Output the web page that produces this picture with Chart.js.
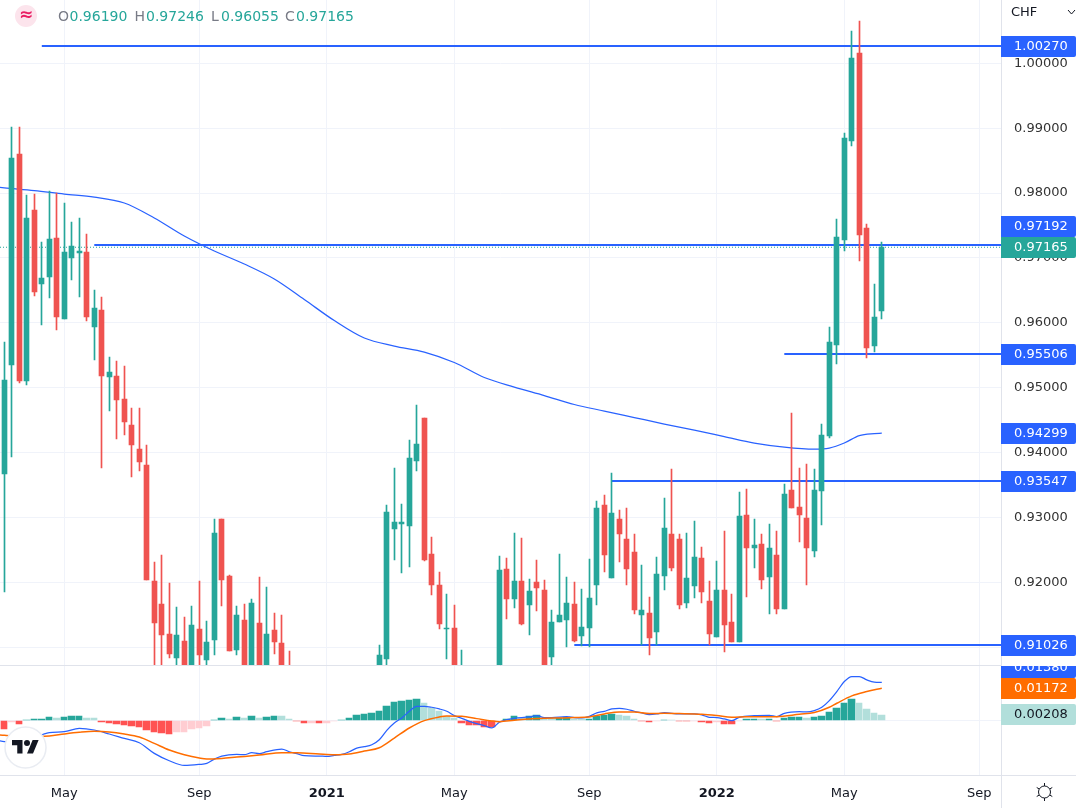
<!DOCTYPE html>
<html>
<head>
<meta charset="utf-8">
<style>html,body{margin:0;padding:0;background:#fff}canvas{display:block}</style>
<script src="https://cdn.jsdelivr.net/npm/chart.js@4/dist/chart.umd.js"></script>
</head>
<body>
<canvas id="c" width="1076" height="808"></canvas>
<script>
const _ = null;
const opens = [.93670,.95350,.98601,.95104,.97739,.96598,.96706,.97307,.96059,.96999,.97076,.97091,.95935,.96198,.95165,.95181,.94826,.94425,.94055,.93809,.92021,.91666,.91204,.90835,.91097,.904,.91281,.90804,.91112,.92976,.92099,.90958,.91420,.904,.91374,.904,.91266,.91066,.905,_,_,_,_,_,_,_,_,_,_,_,.904,.90820,.92822,.92899,.92868,.93870,.94533,.92437,.91960,.91281,.91297,.903,_,_,_,_,.904,.92206,.91744,.92021,.91651,.92006,.91883,.90850,.91389,.91420,.91666,.91173,.91297,.91960,.93193,.92068,.92976,.92668,.92468,.91497,.91528,.91235,.92099,.92745,.92668,.91682,.91945,.92376,.91713,.91158,.91883,.91389,.91081,.93038,.92530,.92591,.92083,.92422,.91590,.93424,.93162,.92992,.92484,.93408,.94256,.95658,.97276,.98802,1.00158,.97461,.95642,.96190];
const closes = [.95119,.98540,.95104,.97616,.96475,.96691,.97291,.96090,.97091,.97184,.97107,.96090,.96229,.95181,.95242,.94811,.94471,.94117,.93855,.92037,.91374,.91189,.90896,.91189,.904,.91343,.90881,.91081,.92761,.92037,.90943,.91497,.904,.91682,.904,.91204,.91081,.904,.903,_,_,_,_,_,_,_,_,_,_,_,.90881,.93085,.92930,.92930,.93917,.94132,.92345,.91960,.91358,.91297,.904,.906,_,_,_,_,.92191,.91744,.92021,.91358,.91868,.91913,.904,.91389,.91497,.91682,.91097,.91312,.91759,.93146,.92422,.93069,.92745,.92206,.91574,.91574,.91143,.92129,.92838,.92222,.91651,.92068,.92391,.91852,.91204,.91883,.91343,.91081,.93023,.92530,.92576,.92037,.92530,.91590,.93362,.93146,.93038,.92530,.93424,.94271,.95704,.97323,.98848,1.00081,.97353,.95612,.96090,.97165];
const highs = [.95704,.99018,.99018,.97970,.97985,.97245,.98032,.98001,.97847,.97554,.97616,.97369,.96506,.96398,.95473,.95412,.95335,.94687,.94687,.94117,.92314,.92422,.91991,.91620,.91466,.91636,.92021,.91405,.92976,.92976,.92114,.91636,.91666,.91744,.92083,.91929,.91528,.91497,.90943,_,_,_,_,_,_,_,_,_,_,_,.91035,.93193,.93763,.93208,.94194,.94734,.94533,.92699,.92160,.91821,.91651,.90958,_,_,_,_,.92407,.92376,.92761,.92684,.92052,.92345,.92037,.91574,.92437,.92083,.92006,.91898,.92360,.93254,.93347,.93686,.93115,.93146,.92745,.92268,.91775,.92391,.93300,.93747,.92745,.92761,.92946,.92545,.92021,.92330,.92792,.91821,.93393,.93439,.92976,.92745,.92899,.92792,.93516,.94610,.93763,.93824,.93747,.94441,.95936,.97600,.98925,1.00497,1.00651,.97523,.96598,.97246];
const lows = [.91852,.93932,.95073,.95042,.96414,.95966,.96383,.95889,.96059,.96660,.96398,.96028,.95427,.93763,.94641,.94209,.94271,.93624,.93716,.92037,.905,.905,.90835,.905,.902,.902,.905,.905,.90881,.91636,.90943,.90881,.902,.902,.902,.902,.90896,.902,.902,_,_,_,_,_,_,_,_,_,_,_,.902,.905,.92345,.92145,.92237,.93716,.92330,.91806,.91281,.90820,.902,.902,_,_,_,_,.902,.91435,.91605,.91343,.91189,.91559,.902,.905,.91389,.91004,.91081,.91019,.91004,.91651,.92160,.92068,.92314,.91960,.91512,.91035,.90881,.91035,.91883,.92176,.91590,.91605,.91759,.91682,.91035,.91158,.90927,.91081,.91081,.91775,.92222,.91898,.91512,.91512,.91590,.93146,.92622,.91960,.92391,.92884,.94225,.95365,.97107,.98725,.96953,.95458,.95550,.96055];

const maIndex = [-1,0,4,8,12,16,20,24,28,32,36,40,44,48,52,56,60,64,68,72,76,80,84,88,92,96,100,104,108,110,112,114,116,117];
const maValues = [.98093,.98081,.98039,.97985,.97939,.97847,.97616,.97338,.97107,.96907,.96676,.96360,.96035,.95766,.95643,.95550,.95389,.95158,.95011,.94880,.94742,.94641,.94541,.94441,.94348,.94248,.94148,.94086,.94055,.94071,.94148,.94263,.94294,.94299];

const histValues = [-.00317,-.00061,-.00134,.00012,.00037,.00049,.00122,.00085,.00134,.00159,.00165,.00098,.00085,-.00049,-.00085,-.00134,-.00159,-.00207,-.00244,-.00354,-.00415,-.00451,-.00488,-.00427,-.00421,-.00317,-.00281,-.00207,.00012,.00073,.00049,.00122,.00073,.00159,.00085,.00122,.00159,.00153,.00049,-.00037,-.00098,-.00092,-.00098,-.00085,-.00024,.00012,.00098,.00183,.0022,.00256,.00354,.00537,.00659,.00695,.00732,.00769,.00622,.00439,.00342,.00146,.00073,-.00085,-.00159,-.00183,-.00232,-.00256,-.00073,.00061,.00146,.00073,.00146,.00183,.00098,.00085,.00098,.00104,.00049,.00037,.00061,.00146,.00183,.00214,.00207,.00146,.00061,-.00012,-.00073,-.00037,.00012,.00006,-.00037,-.00043,-.00024,-.00073,-.00085,-.00073,-.00122,-.00128,-.00012,.00049,.00055,.00049,.00061,-.00012,.00085,.00122,.00128,.00085,.00122,.00159,.00317,.00439,.00634,.00769,.00634,.00415,.00268,.00208];

const macdIndex = [-1,0,3,6,8,10,12,14,16,18,20,22,24,26,27,28,29,31,32,33,34,35,37,38,39,40,42,43,44,45,46,47,48,49,50,51,52,53,54,55,56,57,58,59,60,61,62,63,64,65,66,67,68,70,71,72,73,75,76,77,78,79,80,81,82,83,84,85,86,87,88,90,92,93,94,95,96,97,98,100,102,103,104,106,107,108,109,110,111,112,113,114,115,116,117];
const macdValues = [-.0072,-.00781,-.00720,-.00451,-.00415,-.00293,-.00354,-.005,-.00659,-.00817,-.01208,-.01476,-.01647,-.0161,-.01574,-.01415,-.01305,-.01244,-.01257,-.01183,-.0122,-.01147,-.01049,-.01147,-.0122,-.01293,-.01305,-.01318,-.01281,-.01244,-.01147,-.01013,-.00964,-.00891,-.00708,-.00366,-.00098,.00085,.00329,.00512,.00512,.00476,.00415,.00329,.00171,.00073,-.00037,-.00122,-.00195,-.00281,-.00073,.00024,.00073,.00122,.00171,.00098,.00098,.00134,.00098,.00085,.00146,.00268,.00329,.00415,.00439,.00403,.00329,.00268,.00207,.00232,.00281,.00232,.00232,.00195,.0011,.00098,.00049,-.00012,.0011,.00171,.00183,.00134,.00256,.00317,.00305,.00354,.00476,.0072,.01049,.01415,.01598,.01598,.01476,.01391,.0138];

const signalIndex = [-1,0,3,6,8,10,12,14,16,18,20,22,24,26,27,29,31,34,37,39,42,44,46,48,50,52,54,56,58,59,61,63,65,66,68,70,72,74,76,78,80,82,84,86,88,90,92,93,95,97,99,103,106,108,110,111,113,115,117];
const signalValues = [-.00525,-.00549,-.00598,-.00573,-.005,-.00439,-.00403,-.00427,-.005,-.0061,-.00842,-.01086,-.01257,-.01379,-.01415,-.01391,-.01342,-.01269,-.01183,-.01183,-.01232,-.01257,-.01232,-.01122,-.01,-.00647,-.00281,-.00012,.00122,.00159,.00146,.00061,-.00024,-.00049,0,.00049,.00073,.00085,.00098,.00122,.00232,.00305,.00305,.00244,.00256,.00244,.00232,.0022,.00171,.0011,.00134,.00134,.0022,.00281,.00476,.00622,.00891,.01049,.01172];

const rayPrices = [1.0027,.97192,.95506,.93547,.91026];
const rayStarts = [5,12,104,81,76];
const priceTicks = [.91,.92,.93,.94,.95,.96,.97,.98,.99,1.0];
const macdTicks = [0];
const timeTickIndex = [8,26,43,60,78,95,112,130];
const timeTickLabels = ['May','Sep','2021','May','Sep','2022','May','Sep'];
const boldTimeLabels = ['2021','2022'];

const lastPrice = closes[closes.length-1];
const lastMa = maValues[maValues.length-1];
const lastMacd = macdValues[macdValues.length-1];
const lastSignal = signalValues[signalValues.length-1];
const lastHist = histValues[histValues.length-1];

const TEAL='#26a69a', RED='#ef5350', BLUE='#2962ff', ORANGE='#ff6d00', GRID='#f0f3fa', LINE='#e0e3eb', TEXT='#131722';
const FONT='"DejaVu Sans", sans-serif';
const XMIN=-4.3/7.5, XMAX=(1001-4.3)/7.5;

const idx = opens.map((v,i)=>i).filter(i=>opens[i]!==null);
const upColor = i => closes[i]>=opens[i] ? TEAL : RED;
const histColor = (v,i) => {
  const prev = i>0 ? histValues[i-1] : v;
  if (v>=0) return prev<v ? TEAL : '#b2dfdb';
  return prev<v ? '#ffcdd2' : '#ff5252';
};
const zip = (xs,ys) => xs.map((x,i)=>({x,y:ys[i]}));
const snap = y => y<100 ? Math.round(y) : Math.floor(y-.1);

const datasets = [
  {type:'bar',label:'bodies',yAxisID:'y',xAxisID:'x',order:10,grouped:false,barThickness:5,borderSkipped:false,borderWidth:0,
   data:idx.map(i=>({x:i,y:[opens[i],closes[i]]})),backgroundColor:idx.map(upColor)},
  {type:'bar',label:'wicks',yAxisID:'y',xAxisID:'x',order:11,grouped:false,barThickness:1,borderSkipped:false,borderWidth:0,
   data:idx.map(i=>({x:i,y:[lows[i],highs[i]]})),backgroundColor:idx.map(upColor)},
  {type:'line',label:'ma',yAxisID:'y',xAxisID:'x',order:12,data:zip(maIndex,maValues),borderColor:BLUE,borderWidth:1.25,pointRadius:0,cubicInterpolationMode:'monotone'},
  ...rayPrices.map((p,k)=>({type:'line',label:'ray'+k,yAxisID:'y',xAxisID:'x',order:13,data:[{x:rayStarts[k],y:p},{x:XMAX,y:p}],borderColor:BLUE,borderWidth:2,pointRadius:0})),
  {type:'line',label:'last',yAxisID:'y',xAxisID:'x',order:14,data:[{x:XMIN,y:lastPrice},{x:XMAX,y:lastPrice}],borderColor:TEAL,borderWidth:1,borderDash:[1,2],pointRadius:0},
  {type:'line',label:'signal',yAxisID:'m',xAxisID:'x',order:1,data:zip(signalIndex,signalValues),borderColor:ORANGE,borderWidth:1.5,pointRadius:0,cubicInterpolationMode:'monotone'},
  {type:'line',label:'macd',yAxisID:'m',xAxisID:'x',order:2,data:zip(macdIndex,macdValues),borderColor:BLUE,borderWidth:1.25,pointRadius:0,cubicInterpolationMode:'monotone'},
  {type:'bar',label:'hist',yAxisID:'m',xAxisID:'x',order:3,grouped:false,barThickness:6,borderSkipped:false,borderWidth:0,
   data:histValues.map((v,i)=>({x:i,y:v})),backgroundColor:histValues.map(histColor)},
];

function box(ctx,y,bg,fg,text){
  ctx.fillStyle=bg;
  ctx.beginPath();
  ctx.roundRect(1001,y-10,75,21,[0,2,2,0]);
  ctx.fill();
  ctx.fillStyle=fg;
  ctx.font='13px '+FONT;
  ctx.textAlign='left';
  ctx.textBaseline='middle';
  ctx.fillText(text,1014,y+1);
}

const noPad = s => {s.paddingTop=0;s.paddingBottom=0;s.paddingLeft=0;s.paddingRight=0;};

const overlay = {
  id:'overlay',
  afterDatasetsUpdate(chart){
    chart.data.datasets.forEach((d,di)=>{
      const meta=chart.getDatasetMeta(di);
      if(d.label==='bodies'||d.label==='wicks'){
        meta.data.forEach(el=>{el.x=Math.floor(el.x)+.5;el.y=Math.round(el.y);el.base=Math.round(el.base);});
      } else if(d.label==='hist'){
        meta.data.forEach((el,i)=>{el.x=Math.floor(el.x*2)/2;el.width=i%2?7:6;el.y=Math.round(el.y);el.base=Math.round(el.base);});
      } else if(d.label.startsWith('ray')){
        meta.data.forEach(el=>{el.y=snap(el.y);});
      }
    });
  },
  afterDraw(chart){
    const c=chart.ctx, y=chart.scales.y, m=chart.scales.m;
    c.save();
    // pane separators
    c.strokeStyle=LINE;c.lineWidth=1;
    c.beginPath();
    c.moveTo(0,665.5);c.lineTo(1001,665.5);
    c.moveTo(0,775.5);c.lineTo(1076,775.5);
    c.moveTo(1001.5,0);c.lineTo(1001.5,808);
    c.stroke();
    // price labels
    [[1.0027,0],[.95506,0],[.93547,0],[.91026,0],[.97192,-19]].forEach(([p,s])=>{
      box(c,snap(y.getPixelForValue(p))+s,BLUE,'#fff',p.toFixed(5));
    });
    box(c,snap(y.getPixelForValue(lastPrice)),TEAL,'#fff',lastPrice.toFixed(5));
    box(c,snap(y.getPixelForValue(lastMa)),BLUE,'#fff',lastMa.toFixed(5));
    // macd labels, clipped to their pane
    c.save();
    c.beginPath();c.rect(1001,666,75,110);c.clip();
    box(c,Math.floor(m.getPixelForValue(lastMacd))-15,BLUE,'#fff',lastMacd.toFixed(5));
    box(c,Math.floor(m.getPixelForValue(lastSignal)),ORANGE,'#fff',lastSignal.toFixed(5));
    box(c,Math.floor(m.getPixelForValue(lastHist)),'#b2dfdb',TEXT,lastHist.toFixed(5));
    c.restore();
    // currency
    c.fillStyle=TEXT;c.font='13px '+FONT;c.textAlign='left';c.textBaseline='middle';
    c.fillText('CHF',1011,12.5);
    c.strokeStyle=TEXT;c.lineWidth=1;
    c.beginPath();c.moveTo(1068,10);c.lineTo(1071.5,14);c.lineTo(1075,10);c.stroke();
    // symbol badge
    c.fillStyle='#fce4ec';c.beginPath();c.arc(26,16,11,0,Math.PI*2);c.fill();
    c.fillStyle='#e91e63';c.font='bold 17px '+FONT;c.textAlign='center';c.fillText('≈',26,16);
    // OHLC legend
    c.font='14px '+FONT;c.textAlign='left';
    const n=opens.length-1;
    [['O',58,opens[n],69.5],['H',134.5,highs[n],146],['L',211,lows[n],221],['C',285,closes[n],296]].forEach(([k,x,v,vx])=>{
      c.fillStyle='#787b86';c.fillText(k,x,17.5);
      c.fillStyle=TEAL;c.fillText(v.toFixed(5),vx,17.5);
    });
    // watermark logo
    c.fillStyle='#fff';c.strokeStyle='#e9ecf2';c.lineWidth=1.5;
    c.beginPath();c.arc(25.5,747.5,20.5,0,Math.PI*2);c.fill();c.stroke();
    c.save();c.translate(12,737);c.scale(.75,.75);
    c.fillStyle=TEXT;
    c.fill(new Path2D('M14 22H7V11H0V4h14v18zM28 22h-8l7.5-18h8L28 22z'));
    c.beginPath();c.arc(20,8,4,0,Math.PI*2);c.fill();
    c.restore();
    // settings icon
    c.strokeStyle=TEXT;c.lineWidth=1;
    c.beginPath();c.arc(1044.5,792,6,0,Math.PI*2);c.stroke();
    c.beginPath();
    for(let a=0;a<6;a++){
      const t=a*Math.PI/3+Math.PI/6;
      c.moveTo(1044.5+6*Math.cos(t),792+6*Math.sin(t));
      c.lineTo(1044.5+9*Math.cos(t),792+9*Math.sin(t));
    }
    c.stroke();
    c.restore();
  }
};

new Chart(document.getElementById('c'),{
  type:'bar',
  data:{datasets},
  plugins:[overlay],
  options:{
    responsive:false,animation:false,
    layout:{padding:0},
    plugins:{legend:{display:false},tooltip:{enabled:false}},
    scales:{
      x:{type:'linear',position:'bottom',min:XMIN,max:XMAX,offset:false,
         afterBuildTicks:s=>{s.ticks=timeTickIndex.map(value=>({value}));},
         afterFit:s=>{s.height=32.5;noPad(s);},
         grid:{color:GRID,drawTicks:false,offset:false},border:{display:false},
         ticks:{autoSkip:false,maxRotation:0,padding:10,color:TEXT,
           font:ctx=>({family:FONT,size:13,weight:boldTimeLabels.includes(ctx.tick&&ctx.tick.label)?'bold':'normal'}),
           callback:v=>timeTickLabels[timeTickIndex.indexOf(v)]}},
      y:{type:'linear',position:'right',stack:'panes',stackWeight:665.5,min:1-(665.5-63.3)/6489,max:1+63.3/6489,
         afterBuildTicks:s=>{s.ticks=priceTicks.map(value=>({value}));},
         afterFit:s=>{s.width=75;noPad(s);},
         grid:{color:GRID,drawTicks:false},border:{display:false},
         ticks:{autoSkip:false,padding:13,color:'#333',font:{family:FONT,size:13},callback:v=>v.toFixed(5)}},
      m:{type:'linear',position:'right',stack:'panes',stackWeight:110,min:-55.2/2740,max:54.8/2740,
         afterBuildTicks:s=>{s.ticks=macdTicks.map(value=>({value}));},
         afterFit:s=>{s.width=75;noPad(s);},
         grid:{color:GRID,drawTicks:false},border:{display:false},
         ticks:{autoSkip:false,padding:13,color:'#333',font:{family:FONT,size:13},callback:v=>v.toFixed(5)}}
    }
  }
});
</script>
</body>
</html>
